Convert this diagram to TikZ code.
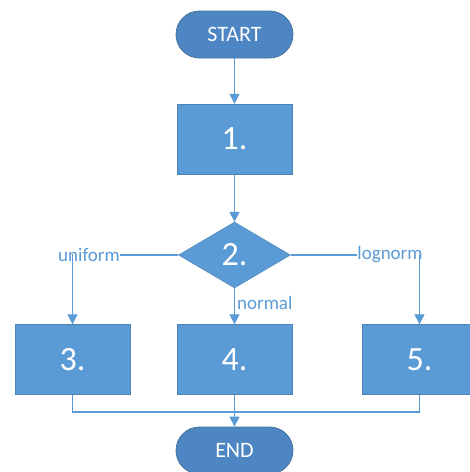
\documentclass[tikz,border=0pt]{standalone}
\usepackage{fontspec}
\setmainfont{Carlito}
\usetikzlibrary{shapes.geometric,arrows.meta}
\definecolor{boxblue}{HTML}{5B9BD5}
\definecolor{termblue}{HTML}{4E86C3}
\definecolor{termedge}{HTML}{41719C}
\definecolor{lineblue}{HTML}{5B9BD5}
\tikzset{
  terminal/.style={rectangle, rounded corners=23.5pt, fill=termblue, draw=termedge, line width=0.8pt,
    minimum width=117pt, minimum height=47pt, inner sep=0pt, text=white, font=\fontsize{22}{24}\selectfont},
  procbox/.style={rectangle, fill=boxblue, draw=boxblue!85!black, line width=0.4pt,
    minimum width=115pt, minimum height=70pt, inner sep=0pt, text=white, font=\fontsize{34}{38}\selectfont},
  decision/.style={diamond, fill=boxblue, draw=boxblue!85!black, line width=0.4pt, aspect=1.697,
    minimum width=112pt, minimum height=66pt, inner sep=0pt, text=white, font=\fontsize{34}{38}\selectfont},
  lbl/.style={text=lineblue, font=\fontsize{19}{22}\selectfont, inner sep=0pt},
  conn/.style={draw=lineblue, line width=1.3pt},
  arr/.style={conn, -{Triangle[width=10pt,length=10pt]}}
}
\begin{document}
\begin{tikzpicture}[x=1pt,y=-1pt]
\clip (0,0) rectangle (470,472);
\fill[white] (0,0) rectangle (470,472);
\node[terminal] (start) at (234.5,34.5) {START};
\node[procbox] (b1) at (234.5,139) {1.};
\node[decision] (d) at (234.5,255) {2.};
\node[procbox] (b3) at (72.5,359.5) {3.};
\node[procbox] (b4) at (234.5,359.5) {4.};
\node[procbox] (b5) at (419.5,359.5) {5.};
\node[terminal] (e) at (234.5,450.5) {END};
\node[lbl] (uni) at (89,255) {uniform};
\node[lbl] (logn) at (390,255) {lognorm};
\coordinate (j) at (234.5,412);

\draw[arr] (start.south) -- (b1.north);
\draw[arr] (b1.south) -- (d.north);
\draw[conn] (d.west) -- (uni.east);
\draw[conn] (d.east) -- (logn.west);
\draw[arr] ([yshift=8pt]uni.south -| b3.north) -- (b3.north);
\draw[arr] ([yshift=8pt]logn.south -| b5.north) -- (b5.north);
\draw[arr] (d.south) -- node[lbl, right=2pt, pos=0.4] (nl) {normal} (b4.north);
\draw[conn] (b3.south) |- (j) -| (b5.south);
\draw[arr] (b4.south) -- (e.north);
\end{tikzpicture}
\end{document}
